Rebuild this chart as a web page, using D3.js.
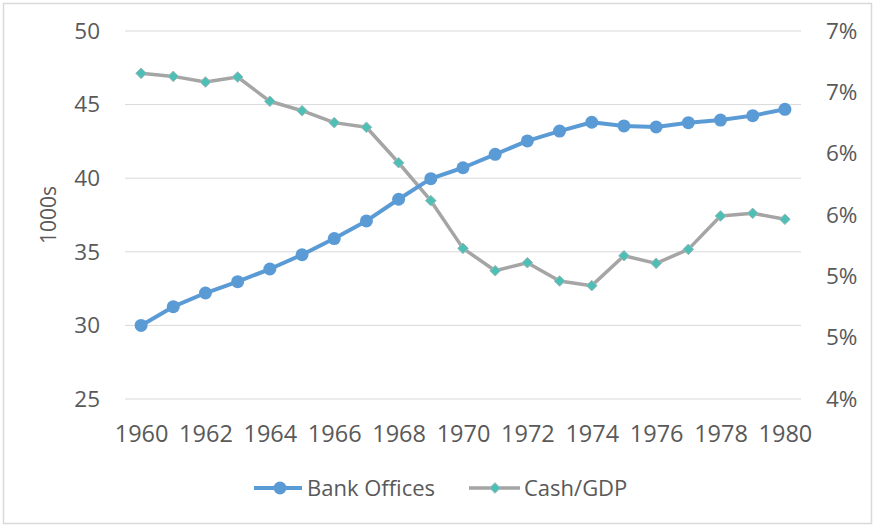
<!DOCTYPE html>
<html>
<head>
<meta charset="utf-8">
<script src="https://cdn.jsdelivr.net/npm/d3@7"></script>
<style>
  body { margin: 0; background: #fff; }
  svg { font-family: "Open Sans", "Noto Sans", sans-serif; }
</style>
</head>
<body>
<svg width="875" height="526"></svg>
<script>
// Data
var years = d3.range(1960, 1981);
var bankOffices = [30.0, 31.27, 32.2, 32.97, 33.83, 34.8, 35.9, 37.1, 38.57, 39.97,
    40.71, 41.62, 42.53, 43.2, 43.8, 43.55, 43.48, 43.77, 43.95, 44.25, 44.68];
var cashGdp = [6.655, 6.63, 6.584, 6.625, 6.427, 6.35, 6.253, 6.215, 5.926, 5.617,
    5.228, 5.046, 5.111, 4.962, 4.924, 5.168, 5.106, 5.22, 5.492, 5.514, 5.465];
var leftTicks = [25, 30, 35, 40, 45, 50];
var rightTicks = [4, 4.5, 5, 5.5, 6, 6.5, 7];
var xTickYears = d3.range(1960, 1981, 2);

var svg = d3.select("svg"),
    width = +svg.attr("width"),
    height = +svg.attr("height");

// chart border
svg.append("rect")
    .attr("x", 3.5).attr("y", 3.5)
    .attr("width", width - 7).attr("height", height - 6)
    .attr("fill", "#fff")
    .attr("stroke", "#d9d9d9")
    .attr("stroke-width", 1.5);

var plotLeft = 125, plotRight = 801, plotTop = 31, plotBottom = 399;

var x = d3.scalePoint()
    .domain(years)
    .range([plotLeft, plotRight])
    .padding(0.5);

var yL = d3.scaleLinear().domain([25, 50]).range([plotBottom, plotTop]);
var yR = d3.scaleLinear().domain([4, 7]).range([plotBottom, plotTop]);

// gridlines
svg.append("g")
    .selectAll("line")
    .data(leftTicks)
    .enter()
    .append("line")
    .attr("x1", plotLeft).attr("x2", plotRight)
    .attr("y1", function (d) { return yL(d); })
    .attr("y2", function (d) { return yL(d); })
    .style("stroke", "#d9d9d9")
    .style("stroke-width", 1);

// left axis
var axisL = svg.append("g")
    .attr("transform", "translate(" + (plotLeft - 25) + ",0)")
    .call(d3.axisLeft(yL).tickValues(leftTicks).tickSize(0).tickPadding(0));
axisL.select(".domain").remove();

// right axis
var axisR = svg.append("g")
    .attr("transform", "translate(" + (plotRight + 25) + ",0)")
    .call(d3.axisRight(yR).tickValues(rightTicks).tickSize(0).tickPadding(0)
        .tickFormat(function (d) { return Math.round(d + 1e-9) + "%"; }));
axisR.select(".domain").remove();

// bottom axis
var axisB = svg.append("g")
    .attr("transform", "translate(0,425)")
    .call(d3.axisBottom(x).tickValues(xTickYears).tickSize(0).tickPadding(0));
axisB.select(".domain").remove();

svg.selectAll(".tick text")
    .style("font-family", "'Open Sans', 'Noto Sans', sans-serif")
    .style("font-size", "22.5px")
    .style("fill", "#595959");
axisB.selectAll(".tick text")
    .style("font-size", "23.5px")
    .attr("dy", "0.71em");

// y title
svg.append("text")
    .attr("transform", "translate(56," + ((plotTop + plotBottom) / 2) + ") rotate(-90)")
    .attr("text-anchor", "middle")
    .style("font-size", "21px")
    .style("fill", "#595959")
    .text("1000s");

// Cash/GDP
var lineR = d3.line()
    .x(function (d, i) { return x(years[i]); })
    .y(function (d) { return yR(d); });

svg.append("path")
    .datum(cashGdp)
    .attr("d", lineR)
    .style("fill", "none")
    .style("stroke", "#a5a5a5")
    .style("stroke-width", 3.5)
    .style("stroke-linejoin", "round");

var diamond = d3.symbol().type(d3.symbolDiamond2).size(72);

svg.append("g")
    .selectAll("path")
    .data(cashGdp)
    .enter()
    .append("path")
    .attr("d", diamond)
    .attr("transform", function (d, i) {
        return "translate(" + x(years[i]) + "," + yR(d) + ")";
    })
    .style("fill", "#4dbfb6")
    .style("stroke", "#9fb8b5")
    .style("stroke-width", 1);

// Bank Offices
var lineL = d3.line()
    .x(function (d, i) { return x(years[i]); })
    .y(function (d) { return yL(d); });

svg.append("path")
    .datum(bankOffices)
    .attr("d", lineL)
    .style("fill", "none")
    .style("stroke", "#5b9bd5")
    .style("stroke-width", 4)
    .style("stroke-linejoin", "round");

svg.append("g")
    .selectAll("circle")
    .data(bankOffices)
    .enter()
    .append("circle")
    .attr("cx", function (d, i) { return x(years[i]); })
    .attr("cy", function (d) { return yL(d); })
    .attr("r", 6.5)
    .style("fill", "#5b9bd5");

// legend
var legY = 488;
var leg1 = svg.append("g").attr("transform", "translate(254," + legY + ")");
leg1.append("line").attr("x1", 0).attr("x2", 48)
    .style("stroke", "#5b9bd5").style("stroke-width", 4);
leg1.append("circle").attr("cx", 26).attr("cy", 0).attr("r", 6.5).style("fill", "#5b9bd5");
leg1.append("text").attr("x", 53).attr("dy", "0.35em")
    .style("font-size", "22px").style("fill", "#595959").text("Bank Offices");

var leg2 = svg.append("g").attr("transform", "translate(469," + legY + ")");
leg2.append("line").attr("x1", 0).attr("x2", 51)
    .style("stroke", "#a5a5a5").style("stroke-width", 3.5);
leg2.append("path").attr("d", diamond).attr("transform", "translate(26,0)")
    .style("fill", "#4dbfb6").style("stroke", "#9fb8b5").style("stroke-width", 1);
leg2.append("text").attr("x", 55).attr("dy", "0.35em")
    .style("font-size", "22px").style("fill", "#595959").text("Cash/GDP");
</script>
</body>
</html>
